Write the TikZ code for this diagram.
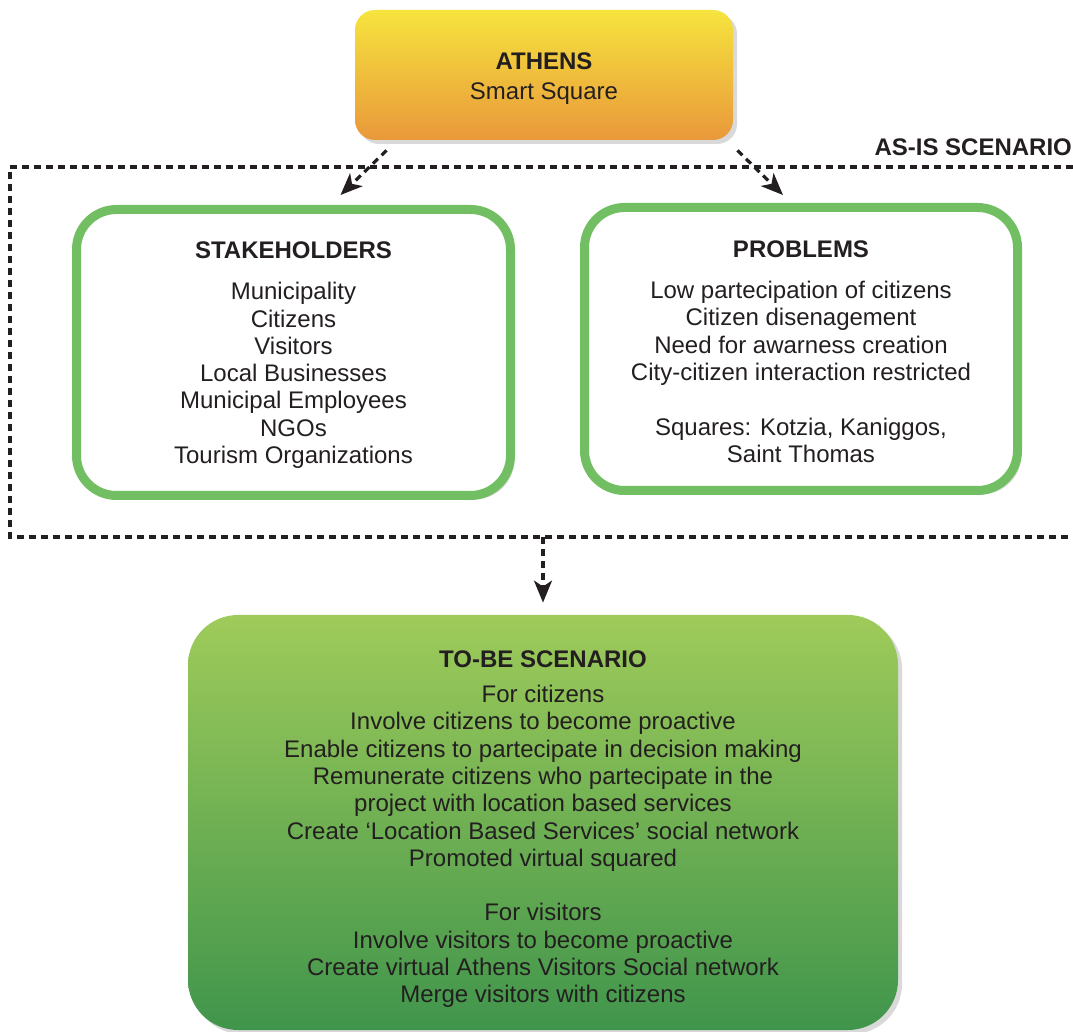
\documentclass[tikz,border=0pt]{standalone}
\usepackage{fontspec}
\setmainfont{Liberation Sans}
\usepackage{tikz}
\usetikzlibrary{positioning, arrows.meta, calc, shadows}

\definecolor{inkdark}{HTML}{231F20}
\definecolor{boxgreen}{HTML}{72BF63}
\definecolor{sunyellow}{HTML}{F6E43E}
\definecolor{sunorange}{HTML}{E9983A}
\definecolor{leaftop}{HTML}{9FCB5A}
\definecolor{leafbottom}{HTML}{40954C}

\tikzset{
    txt/.style={font=\fontsize{12}{13.65}\selectfont, text=inkdark, align=center},
    flow/.style={-{Stealth[length=11pt, width=9pt, inset=3pt]}, line width=1.6pt, inkdark, dash pattern=on 3.5pt off 2.5pt},
    frame/.style={line width=1.6pt, inkdark, dash pattern=on 3.5pt off 2.5pt}
}

\begin{document}
\begin{tikzpicture}[
    x=0.5pt, y=-0.5pt,
    cityhead/.style={txt, rounded corners=10pt, top color=sunyellow, bottom color=sunorange,
        minimum width=189pt, minimum height=65pt, drop shadow={opacity=0.3, shadow xshift=2pt, shadow yshift=-2pt}},
    listbox/.style={txt, draw=boxgreen, line width=4.5pt, fill=white, rounded corners=20pt,
        drop shadow={opacity=0.3, shadow xshift=2pt, shadow yshift=-2pt}},
    goalbox/.style={txt, rounded corners=25pt, top color=leaftop, bottom color=leafbottom,
        minimum width=355pt, minimum height=207.5pt, drop shadow={opacity=0.3, shadow xshift=2pt, shadow yshift=-2pt}}
]
    \useasboundingbox (0,0) rectangle (1073,1032);

    % --- Top: city ---
    \node[cityhead] (athens) at (544,75) {\rule{0pt}{12pt}\textbf{ATHENS}\\[1.5pt]Smart Square};

    % --- As-is scenario frame ---
    \draw[frame] (1073,167) -- (10,167) -- (10,537) -- (1073,537);
    \node[txt, anchor=east, font=\fontsize{12}{13.65}\selectfont\bfseries] (asislabel) at (1079,147) {AS-IS SCENARIO};

    % --- Stakeholders and problems ---
    \node[listbox, minimum width=217pt, minimum height=143pt] (stake) at (293.5,352.5)
        {\rule{0pt}{11pt}\textbf{STAKEHOLDERS}\\[7pt]
         Municipality\\ Citizens\\ Visitors\\ Local Businesses\\ Municipal Employees\\ NGOs\\ Tourism Organizations};
    \node[listbox, minimum width=216.5pt, minimum height=141.5pt] (probs) at (801,349)
        {\rule{0pt}{11pt}\textbf{PROBLEMS}\\[7pt]
         Low partecipation of citizens\\ Citizen disenagement\\ Need for awarness creation\\ City-citizen interaction restricted\\[13.65pt]
         Squares: Kotzia, Kaniggos,\\ Saint Thomas};

    % --- To-be scenario ---
    \node[goalbox] (tobe) at (543,822.5)
        {\rule{0pt}{15pt}\textbf{TO-BE SCENARIO}\\[4pt]
         For citizens\\ Involve citizens to become proactive\\ Enable citizens to partecipate in decision making\\
         Remunerate citizens who partecipate in the\\ project with location based services\\
         Create ‘Location Based Services’ social network\\ Promoted virtual squared\\[13.65pt]
         For visitors\\ Involve visitors to become proactive\\ Create virtual Athens Visitors Social network\\ Merge visitors with citizens};

    % --- Arrows ---
    \coordinate (leftstart) at ($(athens.south west)+(32,10)$);
    \coordinate (rightstart) at ($(athens.south east)+(4,10)$);
    \coordinate (asisout) at (543,537);
    \draw[flow] (leftstart) -- ($(stake.north)+(47,-10)$);
    \draw[flow] (rightstart) -- ($(probs.north)+(-18,-8)$);
    \draw[flow, shorten >=6pt] (asisout) -- (tobe.north);

\end{tikzpicture}
\end{document}
